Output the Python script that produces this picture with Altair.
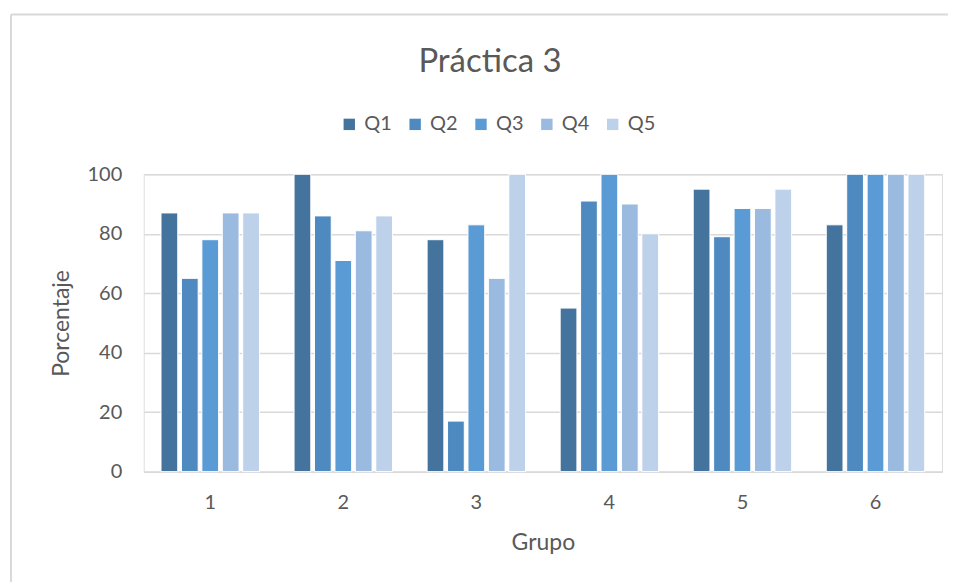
import altair as alt
import pandas as pd

grupos = ["1", "2", "3", "4", "5", "6"]
series = ["Q1", "Q2", "Q3", "Q4", "Q5"]
q1 = [87, 100, 78, 55, 95, 83]
q2 = [65, 86, 17, 91, 79, 100]
q3 = [78, 71, 83, 100, 88.5, 100]
q4 = [87, 81, 65, 90, 88.5, 100]
q5 = [87, 86, 100, 80, 95, 100]
colors = ["#44739D", "#4E8AC0", "#5B9BD5", "#9ABAE0", "#BDD1EA"]

rows = []
for s, vals in zip(series, [q1, q2, q3, q4, q5]):
    for g, v in zip(grupos, vals):
        rows.append({"Grupo": g, "Serie": s, "Porcentaje": v})
df = pd.DataFrame(rows)

FONT = "Lato"
GRAY = "#595959"

bars = alt.Chart(df).mark_bar(stroke="white", strokeWidth=1).encode(
    x=alt.X("Grupo:N", sort=grupos,
            scale=alt.Scale(paddingInner=0.26, paddingOuter=0.13),
            axis=alt.Axis(title="Grupo", labelAngle=0, ticks=False,
                          domainColor="#D9D9D9", domainWidth=1.5,
                          labelPadding=21, labelFontSize=20, labelColor=GRAY,
                          titleFontSize=23, titleColor=GRAY, titleFontWeight="normal",
                          titlePadding=19, labelFont=FONT, titleFont=FONT)),
    xOffset=alt.XOffset("Serie:N", sort=series,
                        scale=alt.Scale(paddingInner=0.18, paddingOuter=0)),
    y=alt.Y("Porcentaje:Q", scale=alt.Scale(domain=[0, 100]),
            axis=alt.Axis(title="Porcentaje", values=[0, 20, 40, 60, 80, 100],
                          ticks=False, domain=False, gridColor="#D9D9D9",
                          gridWidth=1.5, labelPadding=22, labelFontSize=20,
                          labelColor=GRAY, titleFontSize=23, titleColor=GRAY,
                          titleFontWeight="normal", titleX=-82, titleY=149,
                          titleAngle=-90, titleAlign="center",
                          titleBaseline="middle",
                          labelFont=FONT, titleFont=FONT)),
    color=alt.Color("Serie:N", sort=series,
                    scale=alt.Scale(domain=series, range=colors),
                    legend=alt.Legend(title=None, orient="none", direction="horizontal",
                                      columns=5, legendX=196, legendY=-60,
                                      symbolType="square", symbolSize=130,
                                      symbolStrokeWidth=0, labelFontSize=20,
                                      labelColor=GRAY, labelFont=FONT,
                                      columnPadding=13, labelOffset=5)),
)

one = pd.DataFrame({"a": [0]})
top_line = alt.Chart(one).mark_rule(stroke="#D9D9D9", strokeWidth=2).encode(
    x=alt.value(-133), x2=alt.value(806), y=alt.value(-160))
left_line = alt.Chart(one).mark_rule(stroke="#D9D9D9", strokeWidth=2).encode(
    x=alt.value(-133), y=alt.value(-160), y2=alt.value(420))

chart = alt.layer(top_line, left_line, bars).properties(
    width=800, height=298,
    padding={"left": 2, "top": 5, "right": 0, "bottom": 0},
    title=alt.TitleParams("Práctica 3", fontSize=33, font=FONT, color=GRAY,
                          fontWeight="normal", anchor="middle", frame="group",
                          dx=-53, offset=-66),
).configure_view(stroke=None).configure(background="white")

chart.save("out.html", embed_options={"renderer": "svg", "actions": False})
